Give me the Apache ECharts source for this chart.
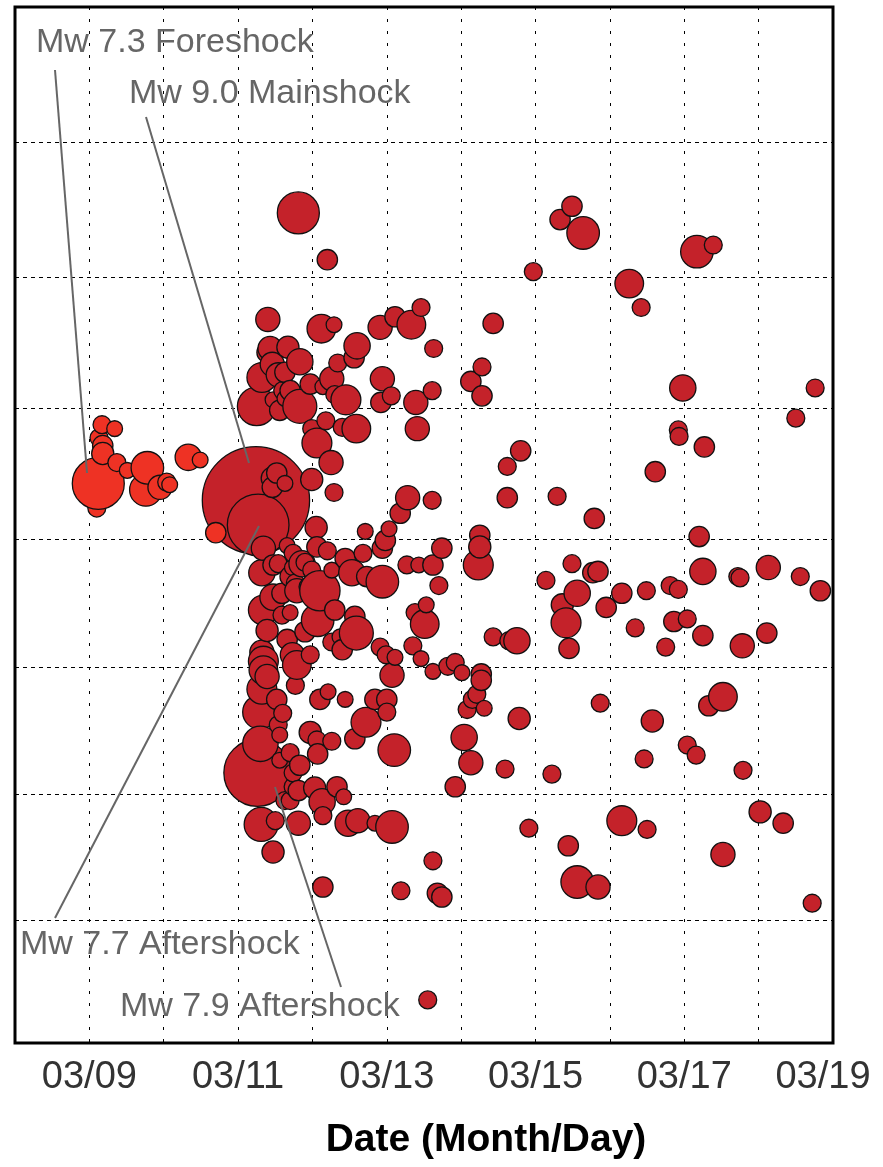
<!DOCTYPE html>
<html>
<head>
<meta charset="utf-8">
<script src="https://cdn.jsdelivr.net/npm/echarts@6/dist/echarts.min.js"></script>
<style>html,body{margin:0;padding:0;background:#fff}#chart{width:883px;height:1167px}</style>
</head>
<body>
<div id="chart"></div>
<script>
// ---- data (x: UTC day of March 2011, y: latitude deg N, m: magnitude) ----
const xTickDays = [9, 11, 13, 15, 17, 19];
const latGridLines = [35, 36, 37, 38, 39, 40, 41];
const latRange = [34, 42];
const dayRange = [8, 19];

const foreDay = [9.12, 9.17, 9.34, 9.13, 9.18, 9.18, 9.37, 9.51, 9.10, 9.78, 9.76, 9.95, 10.04, 10.08, 10.33, 10.49, 10.70];
const foreLat = [38.43, 38.88, 38.85, 38.78, 38.72, 38.66, 38.59, 38.53, 38.24, 38.55, 38.38, 38.40, 38.44, 38.42, 38.63, 38.61, 38.05];
const foreMag = [7.3, 4.8, 4.5, 4.8, 5.1, 5.3, 4.8, 4.5, 4.8, 6.2, 6.2, 5.5, 4.8, 4.5, 5.7, 4.5, 5.1];

const afterDay = [
 11.24, 11.26, 11.27,
 11.81, 12.20, 15.49, 15.33, 15.64, 14.97, 17.39, 17.17, 16.26, 16.42,
 11.40, 12.12, 12.29, 12.91, 13.11, 13.33, 13.46, 13.63, 14.43, 11.43, 11.39, 11.67, 11.83, 12.60, 12.56, 12.34,
 11.32, 11.54, 11.63, 11.60, 11.97, 12.14, 12.26, 12.30, 12.94, 12.92, 13.06, 13.39, 13.61, 14.28, 14.13, 14.28,
 11.25, 11.83, 11.56, 11.63, 11.47, 12.45, 11.99, 12.18, 12.06, 12.40, 12.59, 13.41, 12.25, 11.46, 11.70,
 11.46, 11.52, 11.46, 11.63, 11.99, 12.29, 12.05, 13.28, 13.18, 13.61, 12.71, 12.68, 13.03, 12.98, 12.94, 13.74,
 13.27, 13.43, 13.62, 13.70, 14.25, 14.23, 12.06, 12.20, 12.44, 12.53, 12.73, 12.94, 11.90, 11.73, 11.86, 12.10,
 11.77, 11.94, 11.32, 11.47, 11.34, 11.54, 11.70, 11.59, 11.79, 11.47, 11.34, 12.57, 13.38, 13.53, 11.99, 12.26, 11.74, 11.66,
 16.98, 18.76, 18.50, 16.92, 16.93, 17.27, 14.80, 14.62, 16.61, 14.62, 15.29, 15.79, 17.20, 14.25, 17.25, 18.13,
 17.72, 17.75, 18.56, 18.83, 15.14, 15.49, 15.56, 15.77, 15.84, 15.36, 16.16, 16.49, 16.81, 16.92, 15.95,
 15.41, 15.45, 14.43, 14.64, 14.75, 16.34, 16.86, 17.04, 16.75, 17.25, 17.78, 18.11, 13.82, 13.92, 14.01, 14.27,
 14.27, 14.21, 14.15, 14.31, 14.08, 14.78, 15.87, 16.57, 17.52, 17.33, 14.04, 14.13, 14.59, 15.22, 13.92, 16.46,
 17.04, 17.16, 17.79, 14.91, 15.44, 16.16, 16.50, 18.02, 18.33, 17.52, 15.56, 15.84, 18.72,
 11.59, 11.70, 11.39, 12.07, 11.90, 12.03, 12.30, 12.59, 12.26, 12.40, 12.37, 11.66, 11.32, 11.34, 11.34, 11.39,
 11.73, 11.79, 11.97, 11.77, 11.32, 11.52, 11.60, 11.29, 11.54, 11.56, 11.30, 11.83, 11.74, 11.70, 12.21, 12.10,
 12.44, 11.97, 12.06, 12.26, 12.07, 12.57, 12.72, 12.91, 12.99, 13.11, 13.07, 13.00, 12.84, 13.00, 13.10, 13.51,
 13.35, 13.46, 13.62, 12.03, 12.33, 12.42, 12.13, 11.81, 12.48, 12.61, 12.84, 13.07, 12.14, 11.31, 11.50, 11.47,
 12.14, 13.19, 13.68, 13.74, 13.62, 13.55, 11.70, 11.74, 11.81, 11.63, 11.56
];
const afterLat = [
 38.30, 36.17, 38.11,
 40.48, 40.13, 40.53, 40.43, 40.33, 40.04, 40.24, 40.19, 39.95, 39.77,
 39.68, 39.61, 39.64, 39.62, 39.70, 39.64, 39.77, 39.46, 39.65, 39.46, 39.43, 39.47, 39.36, 39.48, 39.39, 39.35,
 39.24, 39.26, 39.28, 39.14, 39.19, 39.17, 39.23, 39.11, 39.23, 39.05, 39.10, 39.05, 39.14, 39.32, 39.21, 39.10,
 39.02, 39.02, 38.99, 39.08, 39.07, 39.07, 38.85, 38.91, 38.74, 38.86, 38.85, 38.85, 38.59, 39.34, 39.14,
 38.47, 38.51, 38.40, 38.43, 38.46, 38.36, 38.09, 38.32, 38.20, 38.30, 38.06, 37.89, 38.08, 37.99, 37.93, 37.93,
 37.80, 37.80, 37.80, 37.64, 38.03, 37.80, 37.94, 37.91, 37.85, 37.74, 37.71, 37.67, 37.82, 37.78, 37.81, 37.60,
 37.66, 37.63, 37.74, 37.80, 37.93, 37.81, 37.71, 37.58, 37.60, 37.55, 37.45, 37.40, 37.43, 37.49, 37.76, 37.76, 37.89, 37.95,
 39.16, 39.16, 38.93, 38.84, 38.79, 38.71, 38.68, 38.56, 38.52, 38.32, 38.33, 38.16, 38.02, 37.94, 37.75, 37.78,
 37.71, 37.70, 37.71, 37.60, 37.68, 37.81, 37.58, 37.74, 37.75, 37.49, 37.58, 37.60, 37.64, 37.61, 37.47,
 37.35, 37.15, 37.24, 37.21, 37.21, 37.31, 37.36, 37.38, 37.16, 37.25, 37.17, 37.27, 37.01, 37.04, 36.96, 36.95,
 36.90, 36.79, 36.75, 36.68, 36.67, 36.60, 36.72, 36.58, 36.77, 36.70, 36.45, 36.25, 36.20, 36.16, 36.06, 36.28,
 36.39, 36.31, 36.19, 35.73, 35.59, 35.79, 35.72, 35.86, 35.77, 35.52, 35.30, 35.26, 35.13,
 37.41, 37.43, 37.29, 37.37, 37.28, 37.33, 37.45, 37.27, 37.20, 37.14, 37.24, 37.22, 37.12, 37.05, 36.98, 36.93,
 37.10, 37.02, 37.10, 36.86, 36.83, 36.75, 36.64, 36.65, 36.55, 36.47, 36.40, 36.23, 36.06, 35.95, 36.81, 36.75,
 36.75, 36.49, 36.43, 36.42, 36.32, 36.44, 36.57, 37.16, 37.10, 37.08, 36.94, 36.75, 36.75, 36.65, 36.35, 37.34,
 37.17, 37.07, 36.97, 36.05, 36.06, 35.98, 35.94, 35.77, 35.77, 35.79, 35.77, 35.74, 35.83, 35.76, 35.79, 35.54,
 35.26, 35.23, 35.21, 35.18, 35.47, 34.35, 36.33, 36.17, 36.03, 35.95, 36.27
];
const afterMag = [
 9.0, 7.9, 7.7,
 6.8, 5.1, 5.1, 5.1, 6.2, 4.8, 4.8, 6.2, 5.9, 4.8,
 5.5, 5.9, 4.5, 5.5, 5.1, 5.9, 4.8, 4.8, 5.1, 5.5, 5.1, 5.3, 5.7, 5.7, 5.1, 4.8,
 6.0, 5.5, 5.1, 4.8, 5.1, 4.5, 5.5, 4.8, 5.5, 5.1, 4.8, 5.5, 4.8, 4.8, 5.1, 5.1,
 6.6, 6.3, 5.1, 4.5, 4.5, 6.0, 4.8, 4.8, 6.0, 4.8, 5.9, 5.5, 5.5, 5.5, 5.1,
 5.3, 5.1, 5.1, 4.5, 5.3, 4.8, 5.3, 5.5, 5.1, 4.8, 4.5, 4.8, 4.5, 5.1, 5.1, 5.1,
 4.8, 4.5, 5.1, 4.8, 5.1, 6.0, 5.1, 4.8, 5.1, 5.7, 5.1, 6.2, 4.8, 4.5, 5.7, 6.7,
 4.8, 4.8, 5.7, 5.1, 5.5, 4.8, 5.1, 5.1, 5.5, 5.7, 6.0, 5.1, 4.8, 4.5, 4.8, 4.5, 4.8, 4.5,
 5.7, 4.8, 4.8, 4.8, 4.8, 5.1, 5.1, 4.8, 5.1, 5.1, 4.8, 5.1, 5.1, 5.3, 5.7, 5.5,
 4.8, 4.8, 4.8, 5.1, 4.8, 4.8, 5.7, 5.1, 5.1, 5.3, 5.1, 4.8, 4.8, 4.8, 5.1,
 6.0, 5.1, 4.8, 4.8, 5.7, 4.8, 5.1, 4.8, 4.8, 5.1, 5.5, 5.1, 4.8, 4.8, 4.5, 5.1,
 5.1, 4.8, 4.8, 4.5, 4.8, 5.3, 4.8, 5.3, 5.9, 5.1, 5.7, 5.5, 4.8, 4.8, 5.1, 4.8,
 4.8, 4.8, 4.8, 4.8, 5.1, 6.0, 4.8, 5.3, 5.1, 5.5, 6.2, 5.5, 4.8,
 4.8, 4.5, 5.3, 6.2, 5.1, 4.5, 5.1, 6.3, 4.8, 5.1, 4.5, 5.1, 5.5, 6.0, 5.9, 5.5,
 5.5, 5.9, 4.8, 4.8, 6.0, 5.1, 4.8, 6.3, 4.8, 4.5, 6.4, 5.1, 4.8, 4.8, 4.5, 5.1,
 4.5, 5.3, 4.8, 4.8, 5.1, 5.1, 6.0, 4.8, 4.8, 4.5, 5.5, 5.1, 5.1, 4.8, 6.2, 5.9,
 4.8, 4.5, 4.5, 5.3, 5.1, 4.5, 5.7, 5.5, 5.7, 5.5, 4.5, 6.2, 4.8, 6.3, 4.8, 5.3,
 5.1, 4.8, 5.1, 5.1, 4.8, 4.8, 4.8, 4.8, 5.1, 4.8, 4.5
];

const annotationTexts = ['Mw 7.3 Foreshock', 'Mw 9.0 Mainshock', 'Mw 7.7 Aftershock', 'Mw 7.9 Aftershock'];
const axisTitle = 'Date (Month/Day)';

// ---- helpers ----
const merc = lat => Math.log(Math.tan(Math.PI / 4 + lat * Math.PI / 360)) * 180 / Math.PI;
const radius = m => 26 * Math.pow(10, 0.185 * (m - 7.3));
function build(days, lats, mags) {
  const rows = days.map((d, i) => [d, merc(lats[i]), mags[i]]);
  rows.sort((a, b) => a[0] - b[0]);
  return rows;
}
const pad = n => (n < 10 ? '0' : '') + n;

const FONT = "'Liberation Sans', Arial, Helvetica, sans-serif";
const chart = echarts.init(document.getElementById('chart'), null, { renderer: 'canvas' });

const G = { left: 15, top: 7, width: 818, height: 1036 };

chart.setOption({
  animation: false,
  backgroundColor: '#fff',
  grid: { left: G.left, top: G.top, width: G.width, height: G.height, show: true, borderColor: '#000', borderWidth: 3, backgroundColor: 'transparent' },
  xAxis: {
    type: 'value', min: dayRange[0], max: dayRange[1], interval: 1,
    axisLine: { show: false }, axisTick: { show: false },
    splitLine: { show: true, lineStyle: { color: '#000', width: 1, type: [3, 9] } },
    axisLabel: {
      margin: 16, color: '#333', fontSize: 38, fontFamily: FONT,
      formatter: v => {
        if (xTickDays.indexOf(v) < 0) return '';
        const s = '03/' + pad(v);
        return v === dayRange[1] ? '{last|' + s + '}' : s;
      },
      rich: { last: { fontSize: 38, fontFamily: FONT, color: '#333', padding: [0, 20, 0, 0] } }
    }
  },
  yAxis: {
    type: 'value', min: merc(latRange[0]), max: merc(latRange[1]),
    axisLine: { show: false }, axisTick: { show: false }, axisLabel: { show: false }, splitLine: { show: false }
  },
  series: [
    {
      name: 'Aftershocks', type: 'scatter', z: 2,
      data: build(afterDay, afterLat, afterMag),
      symbolSize: v => 2 * radius(v[2]),
      itemStyle: { color: '#C4222A', borderColor: '#111', borderWidth: 1.3, opacity: 1 },
      markLine: {
        z: 1, silent: true, symbol: 'none', animation: false,
        label: { show: false },
        lineStyle: { color: '#000', width: 1, type: [4, 4] },
        data: latGridLines.map(l => ({ yAxis: merc(l) }))
      }
    },
    {
      name: 'Foreshocks', type: 'scatter', z: 3,
      data: build(foreDay, foreLat, foreMag),
      symbolSize: v => 2 * radius(v[2]),
      itemStyle: { color: '#EE3224', borderColor: '#111', borderWidth: 1.3, opacity: 1 }
    }
  ],
  graphic: [
    { type: 'line', z: 100, shape: { x1: 55, y1: 70, x2: 87, y2: 473 }, style: { stroke: '#666', lineWidth: 2 } },
    { type: 'line', z: 100, shape: { x1: 146, y1: 117, x2: 249, y2: 463 }, style: { stroke: '#666', lineWidth: 2 } },
    { type: 'line', z: 100, shape: { x1: 55, y1: 918, x2: 259, y2: 526 }, style: { stroke: '#666', lineWidth: 2 } },
    { type: 'line', z: 100, shape: { x1: 275, y1: 787, x2: 341, y2: 987 }, style: { stroke: '#666', lineWidth: 2 } },
    { type: 'text', z: 100, x: 36, y: 43, style: { text: annotationTexts[0], fill: '#666', font: '34px ' + FONT, verticalAlign: 'middle', textVerticalAlign: 'middle' } },
    { type: 'text', z: 100, x: 129, y: 94, style: { text: annotationTexts[1], fill: '#666', font: '34px ' + FONT, verticalAlign: 'middle', textVerticalAlign: 'middle' } },
    { type: 'text', z: 100, x: 20, y: 945, style: { text: annotationTexts[2], fill: '#666', font: '34px ' + FONT, verticalAlign: 'middle', textVerticalAlign: 'middle' } },
    { type: 'text', z: 100, x: 120, y: 1007, style: { text: annotationTexts[3], fill: '#666', font: '34px ' + FONT, verticalAlign: 'middle', textVerticalAlign: 'middle' } },
    { type: 'text', z: 100, x: 486, y: 1140, style: { text: axisTitle, fill: '#000', font: 'bold 39px ' + FONT, align: 'center', textAlign: 'center', verticalAlign: 'middle', textVerticalAlign: 'middle' } }
  ]
});
</script>
</body>
</html>
